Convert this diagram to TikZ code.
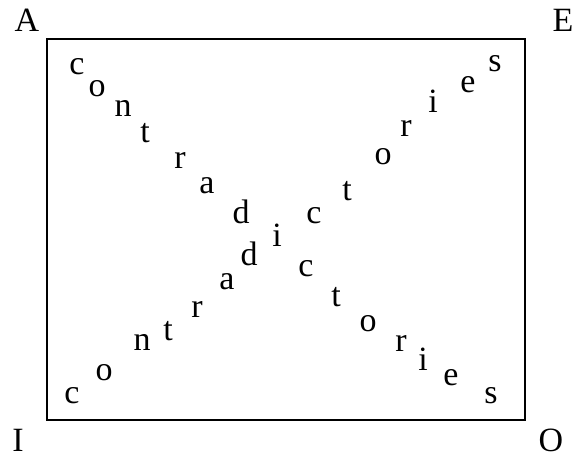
\documentclass[tikz,border=0pt]{standalone}
\usepackage{fontspec}
\setmainfont{Liberation Serif}
\usepackage{tikz}
\usetikzlibrary{positioning}

\begin{document}
\begin{tikzpicture}[
		x=1pt, y=-1pt,
		letter/.style={
			anchor=base, inner sep=0pt,
			font=\fontsize{34}{40}\selectfont
		},
		corner/.style={
			letter
		},
		frame/.style={
			draw, line width=2.6pt
		},
		]
		\useasboundingbox (0,0) rectangle (576,457);
		
		\draw[frame] (47,39) rectangle (525,420);
		
		%corners
		\node[corner] (A) at (27,32) {A};
		\node[corner] (E) at (563,32) {E};
		\node[corner] (I) at (18,451) {I};
		\node[corner] (O) at (551,451) {O};
		
		%from A to O
		\node[letter] (down1) at (77,75) {c};
		\node[letter] (down2) at (97,97) {o};
		\node[letter] (down3) at (123,117) {n};
		\node[letter] (down4) at (145,143) {t};
		\node[letter] (down5) at (180,169) {r};
		\node[letter] (down6) at (207,194) {a};
		\node[letter] (down7) at (241,224) {d};
		
		\node[letter] (mid) at (277,247) {i};
		
		\node[letter] (down9) at (306,277) {c};
		\node[letter] (down10) at (336,307) {t};
		\node[letter] (down11) at (368,331) {o};
		\node[letter] (down12) at (401,351) {r};
		\node[letter] (down13) at (423,370) {i};
		\node[letter] (down14) at (451,385) {e};
		\node[letter] (down15) at (491,403) {s};
		
		%from I to E
		\node[letter] (up1) at (72,403) {c};
		\node[letter] (up2) at (104,380) {o};
		\node[letter] (up3) at (142,350) {n};
		\node[letter] (up4) at (168,340) {t};
		\node[letter] (up5) at (197,317) {r};
		\node[letter] (up6) at (227,290) {a};
		\node[letter] (up7) at (249,266) {d};
		
		\node[letter] (up9) at (314,224) {c};
		\node[letter] (up10) at (347,201) {t};
		\node[letter] (up11) at (383,165) {o};
		\node[letter] (up12) at (406,137) {r};
		\node[letter] (up13) at (433,113) {i};
		\node[letter] (up14) at (468,93) {e};
		\node[letter] (up15) at (495,72) {s};
	\end{tikzpicture}
\end{document}
